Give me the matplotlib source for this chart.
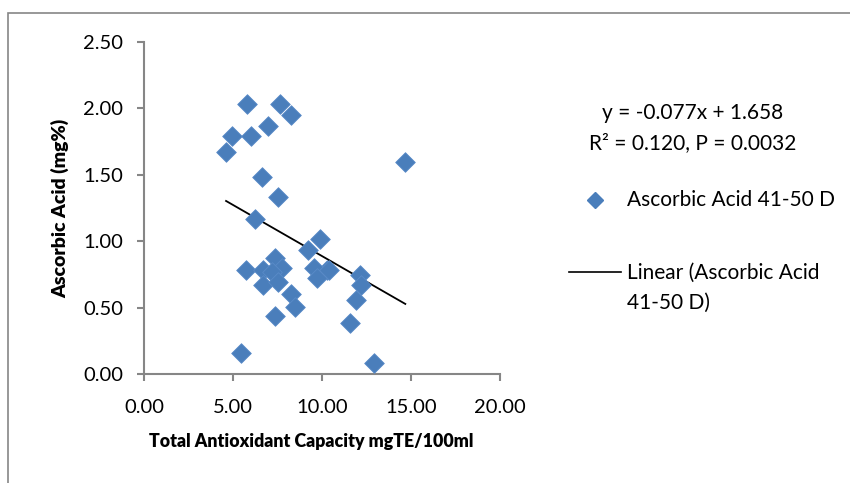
import numpy as np
import matplotlib.pyplot as plt
from matplotlib.lines import Line2D
from matplotlib.patches import Rectangle

# Datos
tac = [5.78, 7.65, 8.25, 6.94, 4.93, 6.00, 4.61, 6.62, 7.55, 6.24,
       9.86, 9.24, 10.27, 9.56, 9.71, 5.74, 7.37, 6.67, 7.74, 7.18,
       6.67, 7.55, 8.27, 8.46, 7.37, 5.44, 14.68, 10.37, 12.15, 12.20,
       11.90, 11.55, 12.94]
acido = [2.03, 2.03, 1.95, 1.87, 1.79, 1.79, 1.67, 1.48, 1.33, 1.17,
         1.02, 0.93, 0.78, 0.795, 0.72, 0.78, 0.87, 0.78, 0.795, 0.77,
         0.67, 0.695, 0.60, 0.507, 0.437, 0.156, 1.60, 0.78, 0.745, 0.67,
         0.557, 0.386, 0.085]
pendiente = -0.077
intercepto = 1.658
xticks = [0, 5, 10, 15, 20]
yticks = [0, 0.5, 1.0, 1.5, 2.0, 2.5]

plt.rcParams['font.family'] = ['Lato', 'DejaVu Sans']
azul = '#4A7EBB'
gris = '#868686'
tam = 15

fig = plt.figure(figsize=(8.5, 4.83), dpi=100)
ax = fig.add_axes([144 / 850, 109 / 483, 356 / 850, 332 / 483])

# Marco exterior del grafico
fig.patches.append(Rectangle((8 / 850, -0.1), 1.2, (483 - 13) / 483 + 0.1,
                             transform=fig.transFigure, fill=False,
                             edgecolor=gris, linewidth=1.2))

ax.scatter(tac, acido, marker='D', s=100, color=azul, edgecolor='#5A8BC8',
           linewidth=0.6, zorder=3)

# Linea de tendencia
xl = np.array([min(tac), max(tac)])
ax.plot(xl, pendiente * xl + intercepto, color='black', linewidth=1.3, zorder=2)

ax.set_xlim(0, 20)
ax.set_ylim(0, 2.5)
ax.set_xticks(xticks)
ax.set_yticks(yticks)
ax.set_xticklabels([f'{v:.2f}' for v in xticks])
ax.set_yticklabels([f'{v:.2f}' for v in yticks])
ax.tick_params(labelsize=14.5, color=gris, length=5, width=1.5)
ax.tick_params(axis='x', pad=13)
ax.tick_params(axis='y', pad=10)
for s in ['top', 'right']:
    ax.spines[s].set_visible(False)
for s in ['left', 'bottom']:
    ax.spines[s].set_color(gris)
    ax.spines[s].set_linewidth(1.5)

ax.set_xlabel('Total Antioxidant Capacity mgTE/100ml', fontsize=12.8,
              fontweight='heavy', labelpad=12)
ax.xaxis.label.set_x(0.47)
ax.set_ylabel('Ascorbic Acid (mg%)', fontsize=14, fontweight='heavy', labelpad=10)

# Ecuacion y leyenda
fig.text(693 / 850, 1 - 113 / 483, 'y = -0.077x + 1.658', ha='center',
         va='center', fontsize=tam)
fig.text(693 / 850, 1 - 143 / 483, 'R² = 0.120, P = 0.0032', ha='center',
         va='center', fontsize=tam)

fig.add_artist(Line2D([595 / 850], [1 - 200 / 483], marker='D', markersize=8,
                      color=azul, transform=fig.transFigure))
fig.text(627 / 850, 1 - 200 / 483, 'Ascorbic Acid 41-50 D', va='center',
         fontsize=tam)
fig.add_artist(Line2D([569 / 850, 621 / 850], [1 - 272 / 483, 1 - 272 / 483],
                      color='black', linewidth=1.2, transform=fig.transFigure))
fig.text(627 / 850, 1 - 273 / 483, 'Linear (Ascorbic Acid', va='center',
         fontsize=tam)
fig.text(627 / 850, 1 - 303 / 483, '41-50 D)', va='center', fontsize=tam)

fig.savefig('out.png', dpi=100)
